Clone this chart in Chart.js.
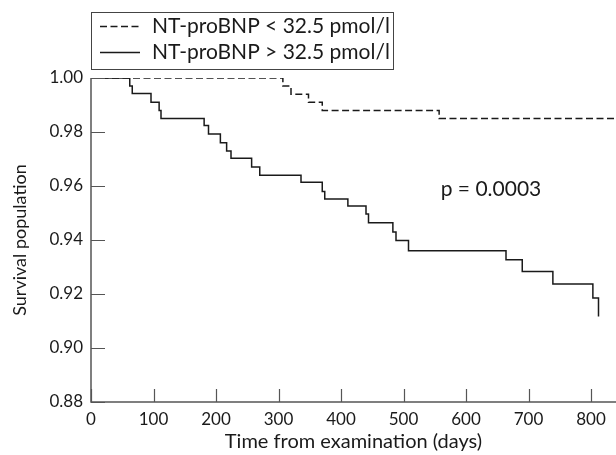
<!DOCTYPE html>
<html>
<head>
<meta charset="utf-8">
<script src="https://cdn.jsdelivr.net/npm/chart.js@4"></script>
<style>
  html, body { margin: 0; padding: 0; background: #fff; }
  #wrap { width: 616px; height: 455px; position: relative; }
</style>
</head>
<body>
<div id="wrap"><canvas id="km"></canvas></div>
<script>
  // Kaplan-Meier steps: time (days) and survival after each drop
  const lowTimes = [0, 307, 320, 348, 370, 557, 840];
  const lowSurvival = [1.0, 0.997, 0.994, 0.991, 0.988, 0.985, 0.985];

  const highTimes = [0, 62, 66, 96, 109, 112, 181, 188, 207, 217, 224, 257, 270, 336, 370, 374,
    411, 440, 444, 483, 488, 508, 664, 690, 739, 803, 812];
  const highSurvival = [1.0, 0.997, 0.9943, 0.991, 0.988, 0.985, 0.9824, 0.9793, 0.976, 0.973, 0.9703,
    0.967, 0.964, 0.9614, 0.958, 0.9552, 0.9526, 0.9496, 0.9464, 0.943, 0.9398, 0.936, 0.9327,
    0.9283, 0.9237, 0.9185, 0.9117];

  const seriesLabels = ["NT-proBNP < 32.5 pmol/l", "NT-proBNP > 32.5 pmol/l"];
  const xTicks = [0, 100, 200, 300, 400, 500, 600, 700, 800];
  const yTicks = [0.88, 0.90, 0.92, 0.94, 0.96, 0.98, 1.00];
  const pText = "p = 0.0003";

  const FONT = "Lato, 'Open Sans', sans-serif";
  const INK = "#1a1a1a";
  const AXIS = "#555";

  const toPoints = (xs, ys) => xs.map((x, i) => ({ x, y: ys[i] }));

  // inward tick marks + axis lines
  const tickMarks = {
    id: "tickMarks",
    afterDraw(chart) {
      const { ctx, chartArea: a, scales: { x, y } } = chart;
      ctx.save();
      ctx.strokeStyle = AXIS;
      ctx.lineWidth = 1.5;
      ctx.beginPath();
      ctx.moveTo(a.left, a.top);
      ctx.lineTo(a.left, a.bottom);
      ctx.lineTo(a.right, a.bottom);
      ctx.stroke();
      ctx.lineWidth = 1.2;
      ctx.beginPath();
      xTicks.forEach((v) => {
        const px = Math.round(x.getPixelForValue(v)) + 0.5;
        ctx.moveTo(px, a.bottom);
        ctx.lineTo(px, a.bottom - 13);
      });
      yTicks.forEach((v) => {
        const py = Math.round(y.getPixelForValue(v)) + 0.5;
        ctx.moveTo(a.left, py);
        ctx.lineTo(a.left + 14, py);
      });
      ctx.stroke();
      ctx.restore();
    },
  };

  // boxed legend top-left + p value note
  const boxLegend = {
    id: "boxLegend",
    afterDraw(chart) {
      const { ctx, scales: { x, y } } = chart;
      const ds = chart.data.datasets;
      ctx.save();
      ctx.strokeStyle = "#444";
      ctx.lineWidth = 1;
      ctx.strokeRect(91.5, 12.5, 302, 57);
      ctx.font = "21px " + FONT;
      ctx.fillStyle = INK;
      ctx.textBaseline = "middle";
      ds.forEach((d, i) => {
        const cy = 26 + i * 26;
        ctx.strokeStyle = INK;
        ctx.lineWidth = 1.4;
        ctx.setLineDash(d.borderDash || []);
        ctx.beginPath();
        ctx.moveTo(100, cy + 0.5);
        ctx.lineTo(140, cy + 0.5);
        ctx.stroke();
        ctx.setLineDash([]);
        ctx.fillText(d.label, 152, cy);
      });
      ctx.font = "21px " + FONT;
      ctx.textAlign = "center";
      ctx.fillText(pText, x.getPixelForValue(640), y.getPixelForValue(0.9588));
      ctx.restore();
    },
  };

  new Chart(document.getElementById("km"), {
    type: "line",
    data: {
      datasets: [
        {
          label: seriesLabels[0],
          data: toPoints(lowTimes, lowSurvival),
          borderColor: INK,
          borderWidth: 1.5,
          borderDash: [7, 3.5],
          stepped: "before",
          pointRadius: 0,
        },
        {
          label: seriesLabels[1],
          data: toPoints(highTimes, highSurvival),
          borderColor: INK,
          borderWidth: 1.5,
          stepped: "before",
          pointRadius: 0,
        },
      ],
    },
    options: {
      responsive: true,
      maintainAspectRatio: false,
      animation: false,
      layout: { padding: { top: 78, left: 0, right: 0, bottom: 0 } },
      plugins: {
        legend: { display: false },
        tooltip: { enabled: false },
      },
      scales: {
        x: {
          type: "linear",
          min: 0,
          max: 840,
          afterBuildTicks: (s) => { s.ticks = xTicks.map((value) => ({ value })); },
          afterFit: (s) => { s.height = 53; },
          grid: { display: false, drawTicks: false },
          border: { display: false },
          ticks: {
            padding: 7,
            color: INK,
            font: { family: FONT, size: 17 },
            maxRotation: 0,
          },
          title: {
            display: true,
            text: "Time from examination (days)",
            color: INK,
            font: { family: FONT, size: 20 },
            padding: { top: 0, bottom: 1 },
          },
        },
        y: {
          type: "linear",
          min: 0.88,
          max: 1.0,
          afterBuildTicks: (s) => { s.ticks = yTicks.map((value) => ({ value })); },
          afterFit: (s) => { s.width = 91; },
          grid: { display: false, drawTicks: false },
          border: { display: false },
          ticks: {
            padding: 8,
            color: INK,
            font: { family: FONT, size: 17 },
            callback: (v) => v.toFixed(2),
          },
          title: {
            display: true,
            text: "Survival population",
            color: INK,
            font: { family: FONT, size: 18 },
            padding: { top: 9, bottom: 0 },
          },
        },
      },
    },
    plugins: [tickMarks, boxLegend],
  });
</script>
</body>
</html>
